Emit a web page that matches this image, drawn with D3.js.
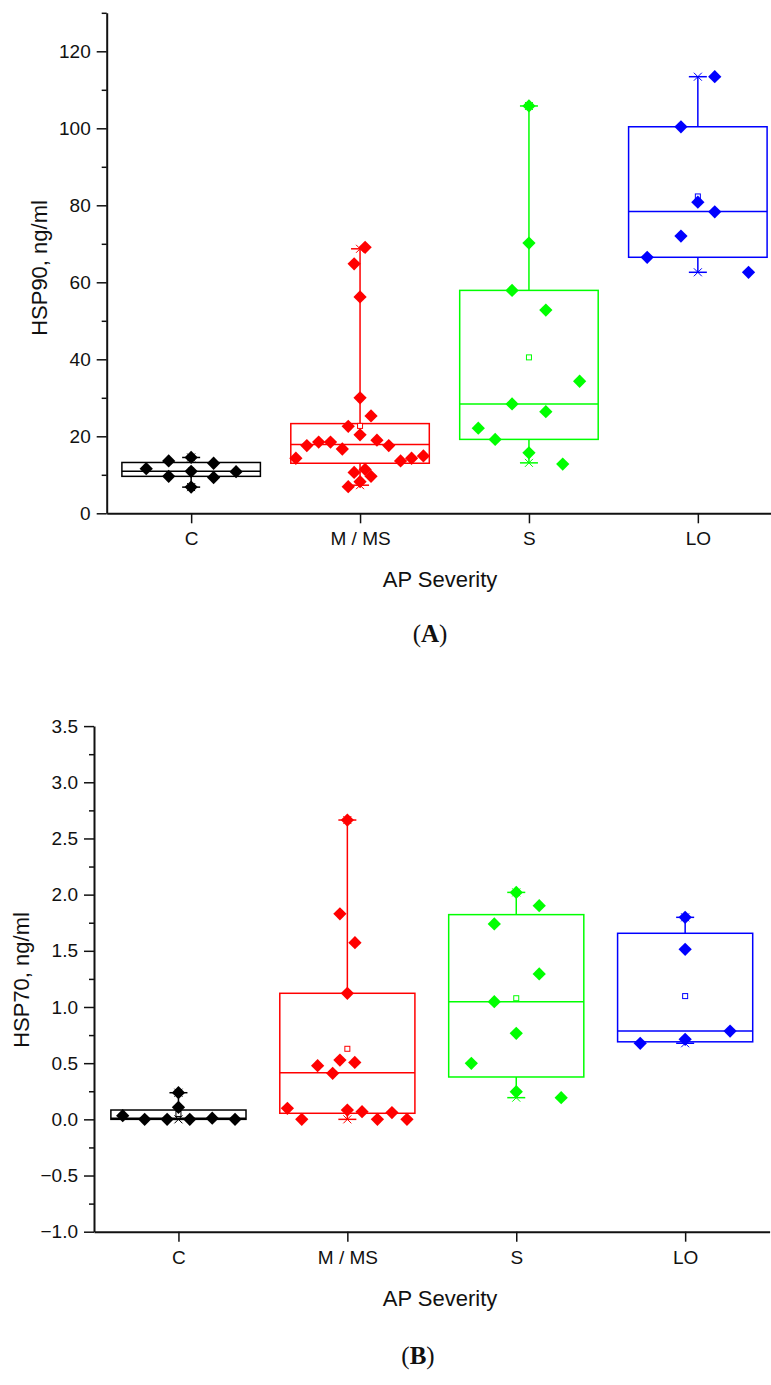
<!DOCTYPE html>
<html>
<head>
<meta charset="utf-8">
<script src="https://cdn.jsdelivr.net/npm/d3@7"></script>
<style>
  body { margin: 0; background: #fff; }
  svg text { font-family: "Liberation Sans", Arial, sans-serif; fill: #111; }
</style>
</head>
<body>
<svg id="chart" width="771" height="1385"></svg>
<script>
const groups = ["C", "M / MS", "S", "LO"];
const colors = ["#000000", "#ff0000", "#00ff00", "#0000ff"];

// Panel A: HSP90, ng/ml (one array per group), jitter in category units
const hsp90C = [11.6, 13.6, 9.6, 14.5, 10.9, 6.8, 13.0, 9.3, 10.8];
const hsp90CJit = [-0.266, -0.133, -0.133, 0, 0, 0, 0.133, 0.133, 0.266];
const hsp90M = [69.1, 64.8, 56.2, 30.0, 25.3, 22.6, 20.4, 17.6, 18.5, 18.5, 16.7,
  19.0, 17.6, 14.3, 13.6, 14.3, 14.9, 10.6, 11.4, 9.6, 6.9, 8.2];
const hsp90MJit = [0.03, -0.035, 0, 0, 0.065, -0.07, 0, -0.315, -0.245, -0.175, -0.105,
  0.1, 0.17, -0.38, 0.24, 0.305, 0.375, -0.035, 0.03, 0.065, -0.07, 0];
const hsp90S = [105.8, 70.2, 57.9, 52.8, 34.3, 28.4, 26.4, 15.7, 12.8, 22.1, 19.2];
const hsp90SJit = [0, 0, -0.1, 0.1, 0.3, -0.1, 0.1, 0, 0.2, -0.3, -0.2];
const hsp90L = [113.4, 100.4, 80.8, 78.3, 72.0, 66.5, 62.6];
const hsp90LJit = [0.1, -0.1, 0, 0.1, -0.1, -0.3, 0.3];

// box stats: [whisker low, q1, median, q3, whisker high, mean]
const hsp90Box = [
  [6.8, 9.6, 10.9, 13.2, 14.5, 11.1],
  [7.3, 13.0, 17.9, 23.3, 68.7, 22.7],
  [13.1, 19.2, 28.4, 57.9, 105.8, 40.5],
  [62.6, 66.5, 78.4, 100.4, 113.4, 82.3]
];

// Panel B: HSP70, ng/ml
const hsp70C = [0.033, 0.0, 0.0, 0.237, 0.107, 0.0, 0.01, 0.0];
const hsp70CJit = [-0.33, -0.2, -0.067, 0, 0, 0.067, 0.2, 0.335];
const hsp70M = [2.664, 1.829, 1.572, 1.122, 0.098, 0.0, 0.478, 0.41, 0.528, 0.507,
  0.083, 0.068, 0.0, 0.06, 0.0];
const hsp70MJit = [0, -0.044, 0.045, 0, -0.355, -0.27, -0.176, -0.087, -0.044, 0.044,
  0, 0.087, 0.178, 0.264, 0.353];
const hsp70S = [2.02, 1.739, 1.902, 1.294, 1.047, 0.766, 0.499, 0.246, 0.193];
const hsp70SJit = [0, -0.13, 0.136, 0.136, -0.13, 0, -0.266, 0, 0.266];
const hsp70L = [1.798, 1.513, 0.786, 0.677, 0.712];
const hsp70LJit = [0, 0, 0.266, -0.266, 0];

const hsp70Box = [
  [0.0, 0.0, 0.01, 0.083, 0.237, 0.048],
  [0.0, 0.054, 0.415, 1.122, 2.664, 0.628],
  [0.193, 0.377, 1.047, 1.822, 2.02, 1.078],
  [0.677, 0.69, 0.786, 1.656, 1.798, 1.097]
];

const svg = d3.select("#chart");

const drawPanel = (cfg) => {
  const g = svg.append("g");

  const x = d3.scaleLinear().domain([0.5, 4.5]).range([cfg.left, cfg.left + 4 * 168.9]);
  const y = d3.scaleLinear().domain(cfg.yDomain).range([cfg.bottom, cfg.top]);

  // minor ticks
  g.append("g")
    .attr("transform", `translate(${cfg.left},0)`)
    .call(d3.axisLeft(y).tickValues(cfg.minor).tickSize(5).tickSizeOuter(0).tickFormat(""))
    .call((a) => a.select(".domain").remove())
    .call((a) => a.selectAll(".tick line").attr("stroke", "#111").attr("stroke-width", 1.5));

  // y axis
  g.append("g")
    .attr("transform", `translate(${cfg.left},0)`)
    .call(
      d3.axisLeft(y)
        .tickValues(cfg.major)
        .tickSize(10)
        .tickSizeOuter(0)
        .tickPadding(6)
        .tickFormat(cfg.fmt)
    )
    .call((a) => a.select(".domain").attr("stroke", "#111").attr("stroke-width", 2))
    .call((a) => a.selectAll(".tick line").attr("stroke", "#111").attr("stroke-width", 1.5))
    .call((a) => a.selectAll(".tick text").attr("font-size", 19).attr("font-family", null));

  // x axis
  g.append("g")
    .attr("transform", `translate(0,${cfg.bottom})`)
    .call(
      d3.axisBottom(x)
        .tickValues([1, 2, 3, 4])
        .tickSize(10)
        .tickSizeOuter(0)
        .tickFormat((d) => groups[d - 1])
    )
    .call((a) => a.select(".domain").attr("stroke", "#111").attr("stroke-width", 2))
    .call((a) => a.selectAll(".tick line").attr("stroke", "#111").attr("stroke-width", 1.5))
    .call((a) =>
      a.selectAll(".tick text")
        .attr("font-size", 19)
        .attr("font-family", null)
        .attr("y", 32)
        .attr("dy", null)
    );

  // axis titles
  g.append("text")
    .attr("transform", `translate(${cfg.yTitleX},${cfg.yTitleY}) rotate(-90)`)
    .attr("text-anchor", "middle")
    .attr("font-size", 22)
    .text(cfg.yTitle);

  g.append("text")
    .attr("x", 440)
    .attr("y", cfg.bottom + 74)
    .attr("text-anchor", "middle")
    .attr("font-size", 22)
    .text("AP Severity");

  const tag = g.append("text")
    .attr("x", cfg.tagX)
    .attr("y", cfg.tagY)
    .attr("text-anchor", "middle")
    .attr("font-size", 25)
    .style("font-family", '"Liberation Serif", "Times New Roman", serif');
  tag.append("tspan").text("(");
  tag.append("tspan").attr("font-weight", "bold").text(cfg.tag);
  tag.append("tspan").text(")");

  const boxW = cfg.boxFrac * 168.9;
  const capW = 18;

  // boxes, whiskers, caps, means
  cfg.box.forEach((b, i) => {
    const cx = x(i + 1);
    const col = colors[i];
    const [lo, q1, med, q3, hi, mean] = b;
    const bg = g.append("g").attr("stroke", col).attr("fill", "none").attr("stroke-width", 1.5);

    bg.append("line").attr("x1", cx).attr("x2", cx).attr("y1", y(q3)).attr("y2", y(hi));
    bg.append("line").attr("x1", cx).attr("x2", cx).attr("y1", y(q1)).attr("y2", y(lo));
    bg.append("rect")
      .attr("x", cx - boxW / 2)
      .attr("y", y(q3))
      .attr("width", boxW)
      .attr("height", Math.max(y(q1) - y(q3), 0.5));
    bg.append("line")
      .attr("x1", cx - boxW / 2).attr("x2", cx + boxW / 2)
      .attr("y1", y(med)).attr("y2", y(med));

    [lo, hi].forEach((v) => {
      bg.append("line")
        .attr("x1", cx - capW / 2).attr("x2", cx + capW / 2)
        .attr("y1", y(v)).attr("y2", y(v));
      bg.append("path")
        .attr("stroke-width", 1)
        .attr("d", `M${cx - 4},${y(v) - 4}L${cx + 4},${y(v) + 4}M${cx - 4},${y(v) + 4}L${cx + 4},${y(v) - 4}`);
    });

    bg.append("rect")
      .attr("x", cx - 2.5)
      .attr("y", y(mean) - 2.5)
      .attr("width", 5)
      .attr("height", 5)
      .attr("fill", "#fff")
      .attr("stroke-width", 1);
  });

  // data points
  const diamond = d3.symbol().type(d3.symbolSquare).size(88);
  cfg.points.forEach((p, i) => {
    const pts = p.values.map((v, j) => ({ v, j: p.jit[j] }));
    g.append("g")
      .selectAll("path")
      .data(pts)
      .enter()
      .append("path")
      .attr("d", diamond)
      .attr("fill", colors[i])
      .attr("transform", (d) => `translate(${x(i + 1 + d.j)},${y(d.v)}) rotate(45)`);
  });
};

drawPanel({
  left: 106.7,
  top: 12.8,
  bottom: 513.3,
  yDomain: [0, 130],
  major: d3.range(0, 121, 20),
  minor: d3.range(10, 131, 20),
  fmt: d3.format("d"),
  yTitle: "HSP90, ng/ml",
  yTitleX: 47,
  yTitleY: 268,
  tag: "A",
  tagX: 430,
  tagY: 642,
  boxFrac: 0.82,
  box: hsp90Box,
  points: [
    { values: hsp90C, jit: hsp90CJit },
    { values: hsp90M, jit: hsp90MJit },
    { values: hsp90S, jit: hsp90SJit },
    { values: hsp90L, jit: hsp90LJit }
  ]
});

drawPanel({
  left: 94,
  top: 726.1,
  bottom: 1231.7,
  yDomain: [-1, 3.5],
  major: d3.range(-1, 3.51, 0.5),
  minor: d3.range(-0.75, 3.3, 0.5),
  fmt: d3.format(".1f"),
  yTitle: "HSP70, ng/ml",
  yTitleX: 29,
  yTitleY: 980,
  tag: "B",
  tagX: 418,
  tagY: 1364,
  boxFrac: 0.8,
  box: hsp70Box,
  points: [
    { values: hsp70C, jit: hsp70CJit },
    { values: hsp70M, jit: hsp70MJit },
    { values: hsp70S, jit: hsp70SJit },
    { values: hsp70L, jit: hsp70LJit }
  ]
});
</script>
</body>
</html>
